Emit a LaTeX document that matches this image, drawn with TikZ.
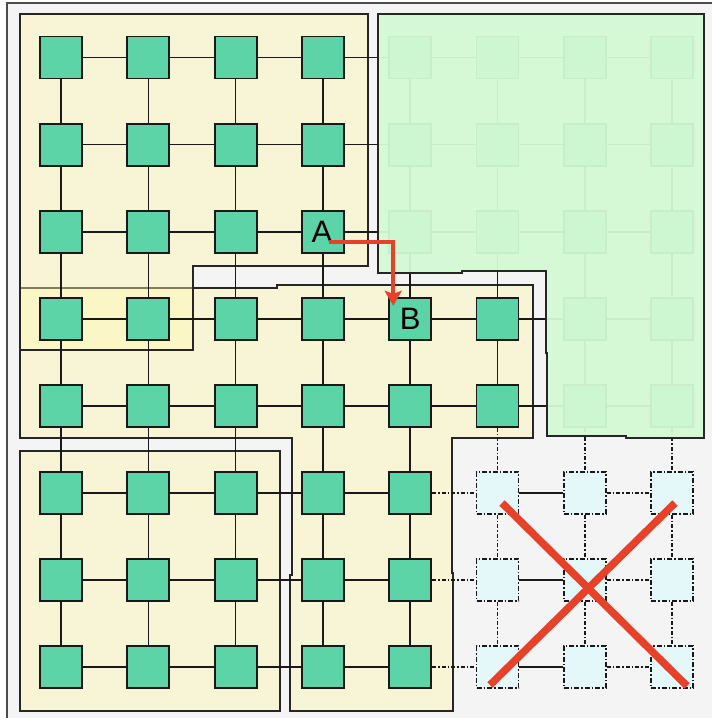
\documentclass[tikz,border=0pt]{standalone}
\usepackage{fontspec}
\setmainfont{Liberation Sans}
\usetikzlibrary{arrows.meta,calc}
\pgfdeclarelayer{regions}
\pgfdeclarelayer{links}
\pgfdeclarelayer{toplayer}
\pgfsetlayers{regions,links,main,toplayer}

\definecolor{bggray}{HTML}{F4F4F4}
\definecolor{regyellow}{HTML}{FFF8B0}
\definecolor{nodegreen}{HTML}{5DD3A8}
\definecolor{failfill}{HTML}{E4F7F9}
\definecolor{zonegreen}{RGB}{212,250,212}
\definecolor{redmark}{HTML}{E8412A}

\tikzset{
  router/.style={draw=black!90, line width=1.9pt, fill=nodegreen, minimum size=42pt, inner sep=0pt},
  failed/.style={router, fill=failfill, dash pattern=on 5pt off 2pt on 1.5pt off 2pt},
  link/.style={draw=black!90, line width=1.6pt},
  faillink/.style={link, dash pattern=on 4pt off 2pt on 1.5pt off 2pt},
  zone/.style={fill=regyellow, fill opacity=0.42, draw=black!85, line width=1.8pt},
  greenzone/.style={fill=zonegreen, fill opacity=0.94, draw=black!85, line width=1.8pt},
  frameline/.style={draw=black!70, line width=2.2pt},
  letter/.style={inner sep=0pt, font=\fontsize{31}{31}\selectfont},
  redpath/.style={draw=redmark, line width=4pt, -{Stealth[length=15pt,width=17pt,inset=3pt]}},
  redcross/.style={draw=redmark, line width=7.5pt, line cap=butt}
}

\begin{document}
\begin{tikzpicture}[x=1pt, y=-1pt]
\useasboundingbox (0,0) rectangle (712,718);

% nodes
\foreach \c in {1,...,8}{
  \foreach \r in {1,...,8}{
    \pgfmathtruncatemacro\isfail{(\c>5)&&(\r>5)}
    \ifnum\isfail=1
      \node[failed] (n-\c-\r) at ({61+87.3*(\c-1)},{57.5+87.1*(\r-1)}) {};
    \else
      \node[router] (n-\c-\r) at ({61+87.3*(\c-1)},{57.5+87.1*(\r-1)}) {};
    \fi
  }
}
\node[letter] (labA) at ($(n-4-3)+(-1,0)$) {A};
\node[letter] (labB) at (n-5-4) {B};

% background and zones
\begin{pgfonlayer}{regions}
  \fill[bggray] (7,3) rectangle (712,718);
  \draw[frameline] (7,718) -- (7,3) -- (712,3);
  % middle zone
  \draw[zone] (20,288) -- (277,288) -- (277,285) -- (533,285) -- (533,438)
     -- (452,438) -- (452,573) -- (453,573) -- (453,711) -- (290,711)
     -- (290,575) -- (292,575) -- (292,438) -- (20,438) -- cycle;
  % top-left zone
  \draw[zone] (20,14) -- (368,14) -- (368,266) -- (193,266) -- (193,350)
     -- (20,350) -- cycle;
  % bottom-left zone
  \draw[zone] (20,451) rectangle (280,711);
\end{pgfonlayer}

% links
\begin{pgfonlayer}{links}
  \foreach \r in {1,...,8}{
    \foreach \c in {1,...,7}{
      \pgfmathtruncatemacro\cc{\c+1}
      \pgfmathtruncatemacro\isf{(\r>5)&&((\c==5)||(\c==7))}
      \ifnum\isf=1
        \draw[faillink] (n-\c-\r) -- (n-\cc-\r);
      \else
        \draw[link] (n-\c-\r) -- (n-\cc-\r);
      \fi
    }
  }
  \foreach \c in {1,...,8}{
    \foreach \r in {1,...,7}{
      \pgfmathtruncatemacro\rr{\r+1}
      \pgfmathtruncatemacro\isf{(\c>5)&&(\r>4)}
      \ifnum\isf=1
        \draw[faillink] (n-\c-\r) -- (n-\c-\rr);
      \else
        \draw[link] (n-\c-\r) -- (n-\c-\rr);
      \fi
    }
  }
\end{pgfonlayer}

% green zone on top, red marks
\begin{pgfonlayer}{toplayer}
  \draw[greenzone] (378,14) -- (704,14) -- (704,438) -- (626,438) -- (626,436)
     -- (547,436) -- (547,353) -- (546,353) -- (546,271) -- (462,271)
     -- (462,273) -- (378,273) -- cycle;
  \draw[redpath] ($(n-4-3)+(6,10)$) -| ($(n-5-4)+(-17,-13)$);
  \coordinate (xa1) at (502,503);
  \coordinate (xa2) at (687,686);
  \coordinate (xb1) at (675,503);
  \coordinate (xb2) at (490,685);
  \draw[redcross] (xa1) -- (xa2);
  \draw[redcross] (xb1) -- (xb2);
\end{pgfonlayer}
\end{tikzpicture}
\end{document}
